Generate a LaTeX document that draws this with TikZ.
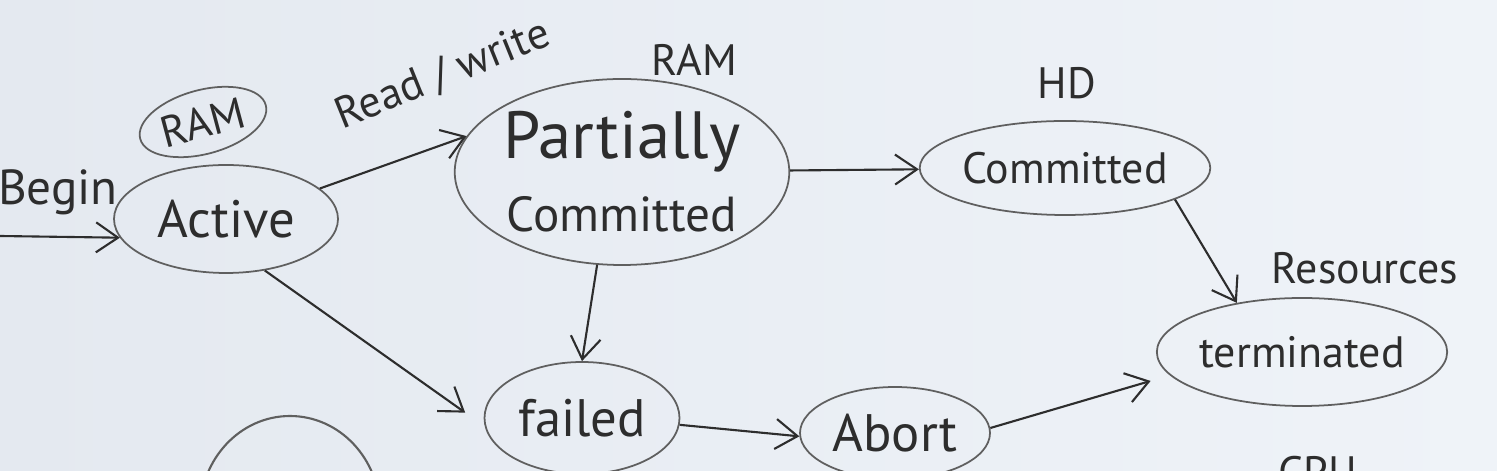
\documentclass[tikz,border=0pt]{standalone}
\usepackage{fontspec}
\setmainfont{PT Sans}
\usetikzlibrary{positioning,shapes.geometric,arrows.meta}

\definecolor{board}{RGB}{228,233,240}
\definecolor{boardlight}{RGB}{239,243,248}
\definecolor{ink}{RGB}{45,45,45}
\definecolor{rim}{RGB}{95,95,95}

\begin{document}
\begin{tikzpicture}[x=0.1mm, y=-0.1mm, >={Straight Barb[length=2.2mm, width=3mm]},
  every phase/.style={ellipse, draw=rim, line width=0.5pt, inner sep=0pt,
    text=ink, font=\fontsize{15}{18}\selectfont},
  small text/.style={text=ink, font=\fontsize{12.5}{15}\selectfont},
  big text/.style={text=ink, font=\fontsize{14}{17}\selectfont},
  link/.style={->, draw=ink, line width=0.6pt}]

% board
\fill [left color=board, right color=boardlight] (0,0) rectangle (1497,471);
\useasboundingbox (0,0) rectangle (1497,471);
\clip (0,0) rectangle (1497,471);

% states
\node [every phase, minimum width=22.4mm, minimum height=10.8mm] (active) at (226,219) {Active};
\node [every phase, small text, rotate=15, minimum width=13mm, minimum height=6.4mm] (ram-active) at (203,122) {RAM};
\node [every phase, minimum width=32.6mm, minimum height=18.6mm, align=center] (partial) at (622,172)
  {\fontsize{19}{21}\selectfont Partially\\[1mm]\fontsize{14}{16}\selectfont Committed};
\node [every phase, small text, minimum width=25.6mm, minimum height=9.4mm] (commit) at (1065,168) {Committed};
\node [every phase, small text, minimum width=26.2mm, minimum height=10.8mm] (terminated) at (1302,352) {terminated};
\node [every phase, minimum width=19.5mm, minimum height=11.2mm] (failed) at (582,418) {failed};
\node [every phase, minimum width=19mm, minimum height=9.2mm] (abort) at (895,433) {Abort};

% labels
\node [big text] (begin) at (58,192) {Begin};
\node [small text, rotate=22] (read-write) at (443,75) {Read / write};
\node [small text] (ram-partial) at (694,60) {RAM};
\node [small text] (hd) at (1067,83) {HD};
\node [small text] (resources) at (1365,268) {Resources};
\node [small text] (cpu) at (1318,472) {CPU};

% transitions
\coordinate (begin-in) at (0,236);
\draw [link] (begin-in) -- (active.190);

\foreach \a/\b in {active.18/partial.167, partial/commit, commit.-16/terminated.143,
                   partial.-105/failed.north, failed.-4/abort.182}
  \draw [link] (\a) -- (\b);

\draw [link, shorten >=2.4mm] (active.-53) -- (failed.185);
\draw [link, shorten >=2mm] (abort.3) -- (terminated.190);

% cut-off state at the bottom
\draw [rim, line width=0.6pt] (290,512) ellipse [x radius=9mm, y radius=9.6mm];

\end{tikzpicture}
\end{document}
